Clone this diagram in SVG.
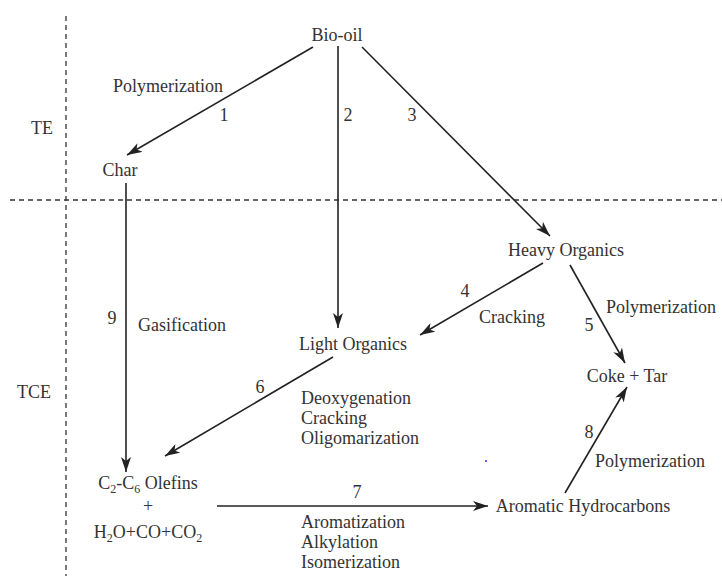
<svg xmlns="http://www.w3.org/2000/svg" width="722" height="576" viewBox="0 0 722 576">
<defs>
<marker id="ah" markerUnits="userSpaceOnUse" markerWidth="16" markerHeight="10" refX="15" refY="5" orient="auto">
<path d="M0,0 L15,5 L0,10 L4,5 Z" fill="#222"/>
</marker>
<style>
text{font-family:"Liberation Serif","Times New Roman",serif;font-size:18px;fill:#333}
.c{text-anchor:middle}
.e{stroke:#222;stroke-width:1.6;fill:none;marker-end:url(#ah)}
.d{stroke:#333;stroke-width:1.3;stroke-dasharray:5,4;fill:none}
.sub{font-size:12px}
</style>
</defs>
<rect width="722" height="576" fill="#fff"/>
<g id="regions">
<line class="d" x1="66" y1="16" x2="66" y2="576"/>
<line class="d" x1="10" y1="200" x2="722" y2="200"/>
<text x="42" y="134" class="c">TE</text>
<text x="34" y="398" class="c">TCE</text>
</g>
<g id="connectors">
<line class="e" x1="313" y1="47" x2="127" y2="155"/>
<line class="e" x1="338" y1="46" x2="338" y2="328"/>
<line class="e" x1="362" y1="47" x2="550" y2="236"/>
<line class="e" x1="543" y1="263" x2="420" y2="335"/>
<line class="e" x1="570" y1="265" x2="625" y2="363"/>
<line class="e" x1="126" y1="183" x2="126" y2="472"/>
<line class="e" x1="333" y1="357" x2="165" y2="456"/>
<line class="e" x1="217" y1="506" x2="488" y2="506"/>
<line class="e" x1="565" y1="493" x2="627" y2="387"/>
</g>
<g id="labels">
<text x="168" y="92" class="c">Polymerization</text>
<text x="224" y="121" class="c">1</text>
<text x="348" y="121" class="c">2</text>
<text x="412" y="121" class="c">3</text>
<text x="465" y="297" class="c">4</text>
<text x="479" y="323">Cracking</text>
<text x="589" y="331" class="c">5</text>
<text x="606" y="313">Polymerization</text>
<text x="112" y="324" class="c">9</text>
<text x="138" y="331">Gasification</text>
<text x="260" y="393" class="c">6</text>
<text x="301" y="404">Deoxygenation</text>
<text x="301" y="424">Cracking</text>
<text x="301" y="444">Oligomarization</text>
<text x="357" y="498" class="c">7</text>
<text x="301" y="528">Aromatization</text>
<text x="301" y="548">Alkylation</text>
<text x="301" y="568">Isomerization</text>
<text x="589" y="438" class="c">8</text>
<text x="595" y="467">Polymerization</text>
</g>
<g id="n-biooil"><text x="337" y="41" class="c">Bio-oil</text></g>
<g id="n-char"><text x="120" y="176" class="c">Char</text></g>
<g id="n-heavy"><text x="566" y="256" class="c">Heavy Organics</text></g>
<g id="n-light"><text x="353" y="350" class="c">Light Organics</text></g>
<g id="n-coke"><text x="627" y="382" class="c">Coke + Tar</text></g>
<g id="n-olefins">
<text x="148" y="489" class="c">C<tspan class="sub" dy="4">2</tspan><tspan dy="-4">-C</tspan><tspan class="sub" dy="4">6</tspan><tspan dy="-4"> Olefins</tspan></text>
<text x="148" y="512" class="c">+</text>
<text x="148" y="538" class="c">H<tspan class="sub" dy="4">2</tspan><tspan dy="-4">O+CO+CO</tspan><tspan class="sub" dy="4">2</tspan></text>
</g>
<g id="n-aromatic"><text x="583" y="512" class="c">Aromatic Hydrocarbons</text></g>
<circle cx="486" cy="461" r="1" fill="#33f"/>
</svg>
